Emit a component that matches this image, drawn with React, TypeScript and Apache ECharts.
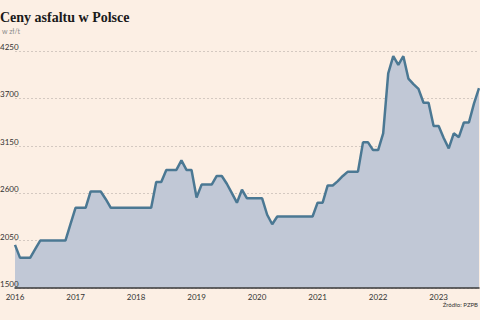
import React, { useEffect, useRef } from "react";
import * as echarts from "echarts";

// Monthly asphalt prices in Poland, zł per tonne, Jan 2016 – Sep 2023
const years = ["2016", "2017", "2018", "2019", "2020", "2021", "2022", "2023"];
const monthsInLastYear = 9;

const prices = [
  // 2016
  2000, 1850, 1850, 1850, 1950, 2050, 2050, 2050, 2050, 2050, 2050, 2240,
  // 2017
  2430, 2430, 2430, 2620, 2620, 2620, 2530, 2430, 2430, 2430, 2430, 2430,
  // 2018
  2430, 2430, 2430, 2430, 2730, 2730, 2870, 2870, 2870, 2980, 2870, 2870,
  // 2019
  2550, 2700, 2700, 2700, 2800, 2800, 2710, 2600, 2490, 2640, 2540, 2540,
  // 2020
  2540, 2540, 2350, 2240, 2330, 2330, 2330, 2330, 2330, 2330, 2330, 2330,
  // 2021
  2490, 2490, 2690, 2690, 2740, 2800, 2850, 2850, 2850, 3190, 3190, 3100,
  // 2022
  3100, 3295, 3990, 4190, 4090, 4190, 3930, 3866, 3810, 3650, 3650, 3380,
  // 2023
  3380, 3240, 3120, 3295, 3250, 3420, 3420, 3640, 3820,
];

const yTicks = [1500, 2050, 2600, 3150, 3700, 4250];

const title = "Ceny asfaltu w Polsce";
const unit = "w zł/t";
const source = "Źródło: PZPB";

// month keys "YYYY-MM" for the category axis
const months: string[] = [];
years.forEach((y, yi) => {
  const n = yi === years.length - 1 ? monthsInLastYear : 12;
  for (let m = 1; m <= n; m++) months.push(`${y}-${String(m).padStart(2, "0")}`);
});

const GRID_LEFT = 15;

const yScale = {
  type: "value",
  min: yTicks[0],
  max: yTicks[yTicks.length - 1],
  interval: yTicks[1] - yTicks[0],
  axisLine: { show: false },
  axisTick: { show: false },
};

export default function App() {
  const ref = useRef<HTMLDivElement>(null);

  useEffect(() => {
    if (!ref.current) return;
    const chart = echarts.init(ref.current, undefined, { renderer: "svg" });
    chart.setOption({
      animation: false,
      backgroundColor: "#fcefe4",
      grid: {
        left: GRID_LEFT,
        right: 1,
        top: 51,
        bottom: 32,
        containLabel: false,
        outerBoundsMode: "none",
      },
      xAxis: {
        type: "category",
        data: months,
        boundaryGap: false,
        z: 4,
        axisLine: { lineStyle: { color: "#3a3a3a", width: 1.5 } },
        axisTick: { show: false },
        axisLabel: {
          interval: (i: number) => i % 12 === 0,
          formatter: (v: string) => v.slice(0, 4),
          color: "#333",
          fontFamily: "Lato",
          fontSize: 8,
          margin: 5,
        },
        splitLine: { show: false },
      },
      yAxis: [
        {
          // dashed gridlines, drawn beneath the area
          ...yScale,
          axisLabel: { show: false },
          splitLine: {
            lineStyle: { color: "#c9bfb7", type: [2, 2], width: 0.8 },
          },
        },
        {
          // tick values, drawn above the area
          ...yScale,
          position: "left",
          z: 5,
          splitLine: { show: false },
          axisLabel: {
            formatter: (v: number) => String(v),
            color: "#333",
            fontFamily: "Lato",
            fontSize: 8,
            align: "left",
            margin: GRID_LEFT,
            verticalAlign: "bottom",
          },
        },
      ],
      series: [
        {
          type: "line",
          data: prices,
          yAxisIndex: 0,
          symbol: "none",
          lineStyle: { color: "#4b7893", width: 2.5 },
          areaStyle: { color: "#c1c8d6", opacity: 1 },
        },
      ],
      graphic: [
        {
          type: "text",
          left: 0,
          top: 10,
          style: {
            text: title,
            font: "bold 14px 'Liberation Serif'",
            fill: "#1a1a1a",
          },
        },
        {
          type: "text",
          left: 2,
          top: 27,
          style: { text: unit, font: "7px Lato", fill: "#8a8a8a" },
        },
        {
          type: "text",
          right: 2,
          top: 301,
          style: { text: source, font: "6px Lato", fill: "#333" },
        },
      ],
    });
    return () => chart.dispose();
  }, []);

  return <div ref={ref} style={{ width: 480, height: 320, position: "fixed", left: 0, top: 0 }} />;
}
